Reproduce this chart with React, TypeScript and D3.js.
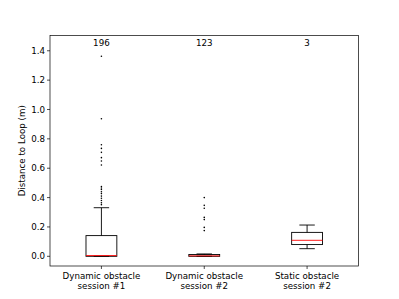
import React from "react";
import * as d3 from "d3";

const categories = ["Dynamic obstacle\nsession #1", "Dynamic obstacle\nsession #2", "Static obstacle\nsession #2"];
const counts = ["196", "123", "3"];
// box stats: [lowerWhisker, q1, median, q3, upperWhisker]
const boxStats = [
  [0.0, 0.0, 0.005, 0.141, 0.331],
  [0.0, 0.0, 0.003, 0.012, 0.016],
  [0.052, 0.08, 0.109, 0.163, 0.213],
];
const fliers1 = [1.363, 0.937, 0.76, 0.735, 0.708, 0.672, 0.649, 0.622, 0.476, 0.465, 0.455, 0.44, 0.427, 0.41, 0.395, 0.38, 0.365, 0.352];
const fliers2 = [0.4, 0.347, 0.327, 0.265, 0.25, 0.197, 0.175];
const fliers3: number[] = [];
const fliers = [fliers1, fliers2, fliers3];
const yTicks = [0.0, 0.2, 0.4, 0.6, 0.8, 1.0, 1.2, 1.4];
const yLabel = "Distance to Loop (m)";

export default function App() {
  const W = 399, H = 299;
  const left = 50, right = 358.5, top = 35.5, bottom = 266;
  const x = d3.scaleLinear().domain([0.5, 3.5]).range([left, right]);
  const y = d3.scaleLinear().domain([-0.066, 1.504]).range([bottom, top]);
  const bw = x(1.15) - x(0.85);
  const font = "DejaVu Sans, sans-serif";
  const fs = 8.7;
  return (
    <svg width={W} height={H} style={{ position: "absolute", left: 0, top: 0 }} fontFamily={font}>
      <rect x={0} y={0} width={W} height={H} fill="white" />
      {boxStats.map((s, i) => {
        const cx = x(i + 1);
        const [lw, q1, med, q3, uw] = s;
        return (
          <g key={i}>
            <line x1={cx} x2={cx} y1={y(q3)} y2={y(uw)} stroke="black" strokeWidth={0.9} />
            <line x1={cx} x2={cx} y1={y(q1)} y2={y(lw)} stroke="black" strokeWidth={0.9} />
            <line x1={cx - bw / 4} x2={cx + bw / 4} y1={y(uw)} y2={y(uw)} stroke="black" strokeWidth={0.9} />
            <line x1={cx - bw / 4} x2={cx + bw / 4} y1={y(lw)} y2={y(lw)} stroke="black" strokeWidth={0.9} />
            <rect x={cx - bw / 2} y={y(q3)} width={bw} height={Math.max(0.01, y(q1) - y(q3))} fill="none" stroke="black" strokeWidth={0.9} />
            <line x1={cx - bw / 2} x2={cx + bw / 2} y1={y(med)} y2={y(med)} stroke="red" strokeWidth={0.9} />
            {fliers[i].map((f, j) => (
              <circle key={j} cx={cx} cy={y(f)} r={0.8} fill="black" />
            ))}
            <text x={cx} y={y(1.45)} dy="0.35em" textAnchor="middle" fontSize={fs}>{counts[i]}</text>
          </g>
        );
      })}
      <rect x={left} y={top} width={right - left} height={bottom - top} fill="none" stroke="black" strokeWidth={0.7} />
      {yTicks.map((t) => (
        <g key={t}>
          <line x1={left - 3} x2={left} y1={y(t)} y2={y(t)} stroke="black" strokeWidth={0.7} />
          <text x={left - 5} y={y(t)} dy="0.35em" textAnchor="end" fontSize={fs}>{t.toFixed(1)}</text>
        </g>
      ))}
      {categories.map((c, i) => (
        <g key={i}>
          <line x1={x(i + 1)} x2={x(i + 1)} y1={bottom} y2={bottom + 3} stroke="black" strokeWidth={0.7} />
          {c.split("\n").map((ln, k) => (
            <text key={k} x={x(i + 1)} y={276 + k * 9.8} dy="0.35em" textAnchor="middle" fontSize={fs}>{ln}</text>
          ))}
        </g>
      ))}
      <text transform={`translate(21.5,${(top + bottom) / 2}) rotate(-90)`} dy="0.35em" textAnchor="middle" fontSize={fs}>{yLabel}</text>
    </svg>
  );
}
